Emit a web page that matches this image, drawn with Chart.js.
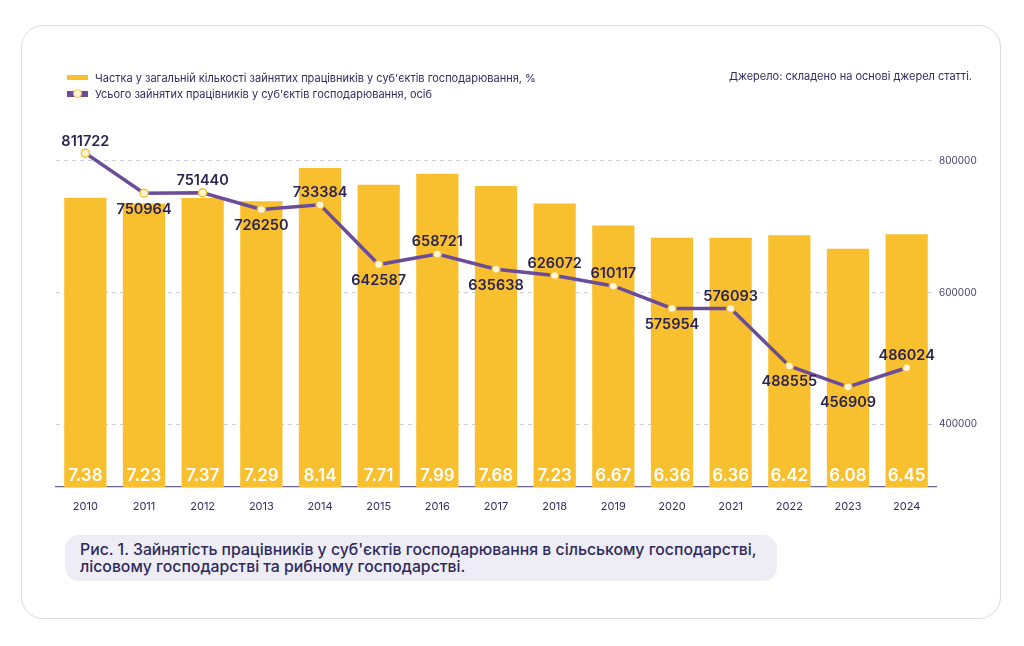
<!DOCTYPE html>
<html>
<head>
<meta charset="utf-8">
<script src="https://cdn.jsdelivr.net/npm/chart.js@4.4.1/dist/chart.umd.min.js"></script>
<style>
body{margin:0;width:1024px;height:646px;background:#fff;position:relative;overflow:hidden;font-family:Inter,"Noto Sans",sans-serif;color:#2e2a5b}
#card{position:absolute;left:21px;top:25px;width:980px;height:594px;border:1px solid #dddbe6;border-radius:22px;box-sizing:border-box}
#chart{position:absolute;left:0;top:0}
.leg{position:absolute;left:67px;font-size:11px;color:#332d5e;white-space:nowrap}
.leg i{position:absolute;left:0;width:21px}
.leg span{position:absolute;left:28px;top:-7px}
#src{position:absolute;right:52px;top:69px;font-size:11px;color:#332d5e}
#cap{position:absolute;left:65px;top:535px;width:712px;height:46px;background:#eeedf5;border-radius:14px;box-sizing:border-box;padding:7px 0 0 15px;font-family:Inter,sans-serif;font-weight:500;font-size:15.8px;line-height:16.5px;color:#2e2a5b;white-space:nowrap}
</style>
</head>
<body>
<div id="card"></div>
<canvas id="chart" width="1024" height="646"></canvas>
<div class="leg" style="top:78px"><i style="top:-3px;height:5px;background:#f8bf2f"></i><span>Частка у загальній кількості зайнятих працівників у суб'єктів господарювання, %</span></div>
<div class="leg" style="top:94px"><i style="top:-3px;height:6px;background:#6b4c9b"></i><i style="left:6px;top:-5px;width:9px;height:9px;border-radius:50%;background:#fff6d8;border:1.5px solid #f3c23c;box-sizing:border-box"></i><span>Усього зайнятих працівників у суб'єктів господарювання, осіб</span></div>
<div id="src">Джерело: складено на основі джерел статті.</div>
<div id="cap">Рис. 1. Зайнятість працівників у суб'єктів господарювання в сільському господарстві,<br>лісовому господарстві та рибному господарстві.</div>
<script>
const years=['2010','2011','2012','2013','2014','2015','2016','2017','2018','2019','2020','2021','2022','2023','2024'];
const sharePct=[7.38,7.23,7.37,7.29,8.14,7.71,7.99,7.68,7.23,6.67,6.36,6.36,6.42,6.08,6.45];
const workers=[811722,750964,751440,726250,733384,642587,658721,635638,626072,610117,575954,576093,488555,456909,486024];
const workerLabelPos=['up','down','up','down','up','down','up','down','up','up','down','up','down','down','up'];
const rightTicks=[400000,600000,800000];

const labelsPlugin={
id:'labelsPlugin',
afterDatasetsDraw(chart){
const c=chart.ctx;
c.save();
c.textAlign='center';
c.fillStyle='#ffffff';
c.font='600 17px Inter';
c.textBaseline='middle';
chart.getDatasetMeta(0).data.forEach((b,i)=>{
c.fillText(sharePct[i].toFixed(2),b.x,476);
});
c.fillStyle='#2b2450';
c.font='600 14.5px Inter';
chart.getDatasetMeta(1).data.forEach((p,i)=>{
if(workerLabelPos[i]=='up'){
c.fillText(workers[i],p.x,p.y-12);
}else{
c.fillText(workers[i],p.x,p.y+16);
}
});
c.restore();
}
};

const ctx_chart=document.getElementById('chart');
const grafico=new Chart(ctx_chart,{
data:{
labels:years,
datasets:[{
type:'bar',
label:'Частка',
data:sharePct,
backgroundColor:'#f8bf2f',
yAxisID:'y',
categoryPercentage:1,
barPercentage:0.72,
order:2
},{
type:'line',
label:'Усього',
data:workers,
borderColor:'#6b4c9b',
borderWidth:3.5,
pointRadius:4,
pointBackgroundColor:'#fff6d8',
pointBorderColor:'#f3c23c',
pointBorderWidth:1.5,
yAxisID:'y2',
order:1
}]
},
options:{
responsive:false,
animation:false,
layout:{padding:{left:56,top:95,right:28,bottom:129}},
plugins:{legend:{display:false},tooltip:{enabled:false}},
scales:{
x:{
grid:{display:false},
border:{display:true,color:'#6a6491',width:1.2},
ticks:{color:'#332d5e',font:{family:'Inter',size:11},padding:5,maxRotation:0},
afterFit(s){s.height=30}
},
y:{
display:false,
min:0,max:10
},
y2:{
position:'right',
min:305000,max:900000,
afterBuildTicks(s){s.ticks=rightTicks.map(v=>({value:v}))},
grid:{color:'#cfccd9',drawTicks:false,lineWidth:1},
border:{display:false,dash:[4,4]},
ticks:{color:'#4a4470',font:{family:'Inter',size:10},padding:3,callback:v=>String(v)},
afterFit(s){s.width=60}
}
}
},
plugins:[labelsPlugin]
});
</script>
</body>
</html>
